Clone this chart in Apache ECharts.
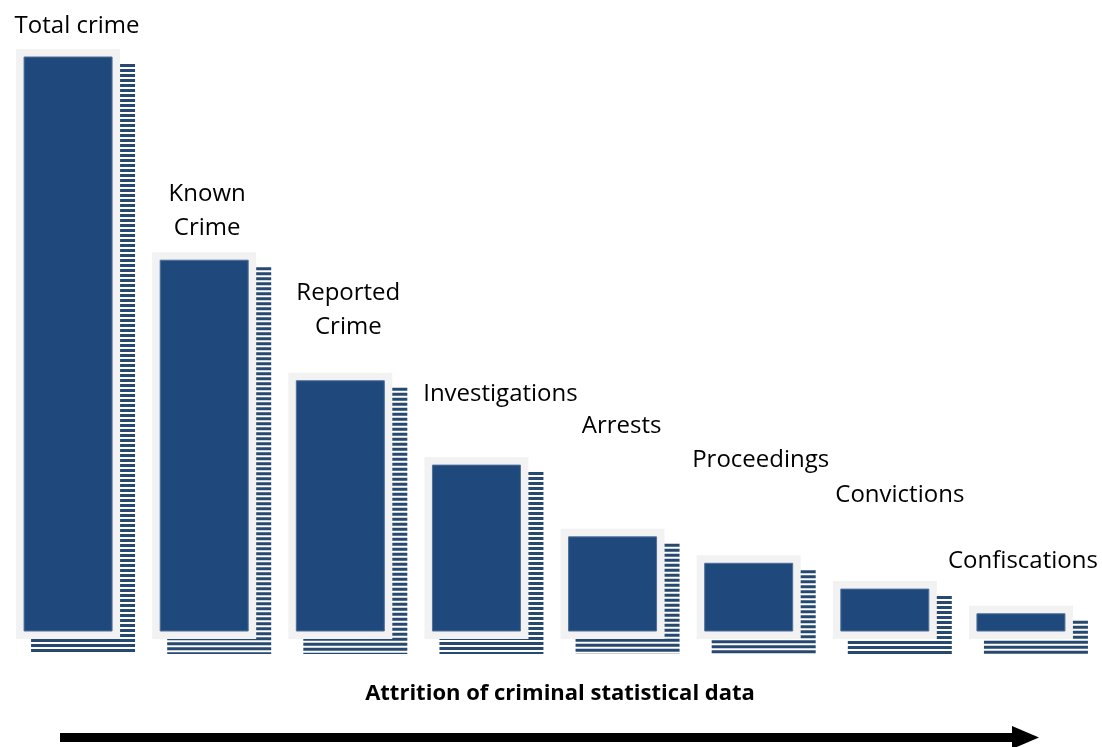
<!DOCTYPE html>
<html>
<head>
<meta charset="utf-8">
<title>Attrition of criminal statistical data</title>
<script src="https://cdn.jsdelivr.net/npm/echarts@6/dist/echarts.min.js"></script>
<style>
  html, body { margin: 0; padding: 0; background: #fff; }
  #chart { width: 1102px; height: 747px; }
</style>
</head>
<body>
<div id="chart"></div>
<script>
// ------------------------------
// data
// ------------------------------
const stages = ['Total crime', 'Known\nCrime', 'Reported\nCrime', 'Investigations', 'Arrests', 'Proceedings', 'Convictions', 'Confiscations'];
const volumes = [100, 64.6, 43.6, 28.9, 16.4, 11.8, 7.3, 3.0];

// label nudge per bar [dx, dy] in px, from bar centre / bar top
const labelNudge = [[9, -24], [3, -25], [8, -47], [24, -64], [9, -104], [12, -96], [15, -87], [2, -46]];

const barColor = '#1F497D';
const frameColor = '#F2F2F2';
const stripeColor = '#27486f';

const chart = echarts.init(document.getElementById('chart'));

function renderBar(params, api) {
  const idx = params.dataIndex;
  const top = api.coord([idx, api.value(1)]);
  const base = api.coord([idx, 0]);
  const cx = top[0];
  const half = 44, pad = 8, off = 15;
  const x0 = cx - half, y0 = top[1], w = half * 2, h = base[1] - top[1];
  const children = [];

  // striped drop shadow
  const sx = x0 - pad + off, sy = y0 - pad + off, sw = w + pad * 2, sh = h + pad * 2;
  for (let y = sy; y < sy + sh; y += 5) {
    children.push({
      type: 'rect',
      shape: { x: sx, y: y, width: sw, height: Math.min(3, sy + sh - y) },
      style: { fill: stripeColor }
    });
  }
  // grey frame + blue bar
  children.push({ type: 'rect', shape: { x: x0 - pad, y: y0 - pad, width: sw, height: sh }, style: { fill: frameColor } });
  children.push({ type: 'rect', shape: { x: x0, y: y0, width: w, height: h }, style: { fill: barColor, stroke: '#4f709a', lineWidth: 1 } });

  const n = labelNudge[idx];
  children.push({
    type: 'text',
    style: {
      text: stages[idx],
      x: cx + n[0],
      y: y0 + n[1] + 10,
      align: 'center',
      verticalAlign: 'bottom',
      fontFamily: 'Open Sans',
      fontSize: 24,
      lineHeight: 34,
      fill: '#000'
    }
  });
  return { type: 'group', children: children };
}

chart.setOption({
  animation: false,
  grid: { left: -3, right: 13, top: 57, bottom: 116 },
  xAxis: { type: 'category', data: stages, show: false },
  yAxis: { type: 'value', min: 0, max: 100, show: false },
  series: [{
    type: 'custom',
    renderItem: renderBar,
    data: volumes.map((v, i) => [i, v]),
    silent: true
  }],
  graphic: [
    {
      type: 'text',
      style: {
        text: 'Attrition of criminal statistical data',
        x: 560, y: 694,
        align: 'center', verticalAlign: 'middle',
        fontFamily: 'Open Sans', fontWeight: 'bold', fontSize: 22,
        fill: '#000'
      }
    },
    { type: 'rect', shape: { x: 60, y: 733, width: 955, height: 9 }, style: { fill: '#000' } },
    { type: 'polygon', shape: { points: [[1012, 726], [1039, 737.5], [1012, 749]] }, style: { fill: '#000' } }
  ]
});

window.addEventListener('resize', () => chart.resize());
</script>
</body>
</html>
